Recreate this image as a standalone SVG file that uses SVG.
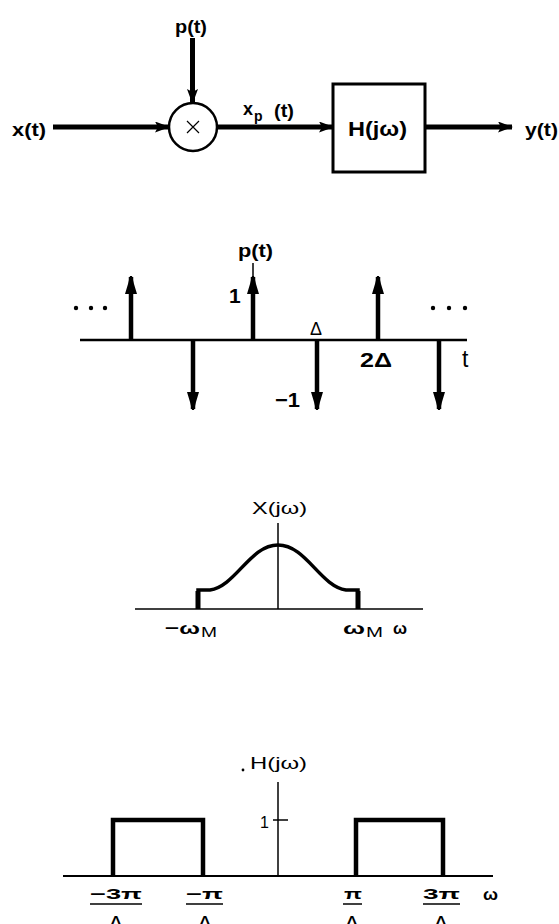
<svg xmlns="http://www.w3.org/2000/svg" width="559" height="924" viewBox="0 0 559 924">
<style>
text{font-family:"Liberation Sans",Arial,sans-serif;fill:#000}
.b{font-weight:bold}
.s{stroke:#000;fill:none}
</style>
<defs>
<marker id="ah" viewBox="0 0 15 11" refX="14" refY="5.5" markerWidth="15" markerHeight="11" markerUnits="userSpaceOnUse" orient="auto">
<path d="M0,0 L15,5.5 L0,11 L3,5.5 Z" fill="#000"/>
</marker>
<marker id="ai" viewBox="0 0 18 12" refX="17" refY="6" markerWidth="18" markerHeight="12" markerUnits="userSpaceOnUse" orient="auto">
<path d="M0,0 L10,3 L18,5 L18,7 L10,9 L0,12 Z" fill="#000"/>
</marker>
</defs>
<rect width="559" height="924" fill="#fff"/>

<!-- Block diagram -->
<g id="multiplier">
<circle cx="193" cy="127" r="24" class="s" stroke-width="2.5"/>
<path d="M187,121 L199,133 M199,121 L187,133" class="s" stroke-width="1.2"/>
</g>
<g id="filter">
<rect x="333" y="84" width="92" height="88" class="s" stroke-width="3"/>
<text x="348" y="136" class="b" font-size="21" textLength="59" lengthAdjust="spacingAndGlyphs">H(jω)</text>
</g>
<g id="labels-top">
<text x="175" y="33" class="b" font-size="18" textLength="32" lengthAdjust="spacingAndGlyphs">p(t)</text>
<text x="12" y="136" class="b" font-size="18" textLength="34" lengthAdjust="spacingAndGlyphs">x(t)</text>
<text x="243" y="115" class="b" font-size="18">x</text>
<text x="254" y="121" class="b" font-size="14">p</text>
<text x="274" y="117" class="b" font-size="18" textLength="20" lengthAdjust="spacingAndGlyphs">(t)</text>
<text x="525" y="136" class="b" font-size="18" textLength="33" lengthAdjust="spacingAndGlyphs">y(t)</text>
</g>
<g id="connectors">
<line x1="192.5" y1="38" x2="192.5" y2="103" class="s" stroke-width="5" marker-end="url(#ah)"/>
<line x1="53" y1="127" x2="169" y2="127" class="s" stroke-width="5" marker-end="url(#ah)"/>
<line x1="217" y1="127" x2="333" y2="127" class="s" stroke-width="5" marker-end="url(#ah)"/>
<line x1="425" y1="127" x2="512" y2="127" class="s" stroke-width="5" marker-end="url(#ah)"/>
</g>

<!-- p(t) impulse train -->
<g id="pt-plot">
<line x1="80" y1="340" x2="467" y2="340" class="s" stroke-width="2.5"/>
<line x1="253" y1="263" x2="253" y2="280" class="s" stroke-width="1.5"/>
<g class="s" stroke-width="4.5">
<line x1="131" y1="340" x2="131" y2="277" marker-end="url(#ai)"/>
<line x1="253" y1="340" x2="253" y2="277" marker-end="url(#ai)"/>
<line x1="378" y1="340" x2="378" y2="277" marker-end="url(#ai)"/>
<line x1="193" y1="340" x2="193" y2="409" marker-end="url(#ai)"/>
<line x1="317" y1="340" x2="317" y2="409" marker-end="url(#ai)"/>
<line x1="439" y1="340" x2="439" y2="409" marker-end="url(#ai)"/>
</g>
<circle cx="76" cy="308" r="2.2"/><circle cx="91" cy="308" r="2.2"/><circle cx="105" cy="308" r="2.2"/>
<circle cx="433" cy="308" r="2.2"/><circle cx="449" cy="308" r="2.2"/><circle cx="465" cy="308" r="2.2"/>
<text x="238" y="257" class="b" font-size="18" textLength="35" lengthAdjust="spacingAndGlyphs">p(t)</text>
<text x="229" y="303" class="b" font-size="21">1</text>
<text x="310" y="335" font-size="18" textLength="12" lengthAdjust="spacingAndGlyphs">Δ</text>
<text x="360" y="367" class="b" font-size="20" textLength="32" lengthAdjust="spacingAndGlyphs">2Δ</text>
<text x="462" y="367" font-size="23">t</text>
<text x="275" y="407" class="b" font-size="21" textLength="25" lengthAdjust="spacingAndGlyphs">−1</text>
</g>

<!-- X(jw) -->
<g id="X-plot">
<line x1="135" y1="609" x2="423" y2="609" class="s" stroke-width="1.5"/>
<line x1="278" y1="523" x2="278" y2="609" class="s" stroke-width="1.5"/>
<path d="M198,609 V590 H210 C236,586 250,545 278,545 C306,545 320,586 346,590 H358 V609" class="s" stroke-width="3.5"/>
<path d="M198,609 V591 M358,609 V591" class="s" stroke-width="5"/>
<text x="252" y="514" font-size="16" textLength="55" lengthAdjust="spacingAndGlyphs">X(jω)</text>
<text x="165" y="634" class="b" font-size="17" textLength="35" lengthAdjust="spacingAndGlyphs">−ω</text>
<text x="201" y="637" font-size="14" textLength="16" lengthAdjust="spacingAndGlyphs">M</text>
<text x="343" y="634" class="b" font-size="17" textLength="22" lengthAdjust="spacingAndGlyphs">ω</text>
<text x="366" y="637" font-size="14" textLength="17" lengthAdjust="spacingAndGlyphs">M</text>
<text x="393" y="634" class="b" font-size="16" textLength="14" lengthAdjust="spacingAndGlyphs">ω</text>
</g>

<!-- H(jw) -->
<g id="H-plot">
<line x1="63" y1="876" x2="493" y2="876" class="s" stroke-width="2"/>
<line x1="278" y1="782" x2="278" y2="876" class="s" stroke-width="1.5"/>
<line x1="273" y1="820" x2="288" y2="820" class="s" stroke-width="1.5"/>
<path d="M113,876 V820 H203 V876" class="s" stroke-width="4.5"/>
<path d="M356,876 V820 H443 V876" class="s" stroke-width="4.5"/>
<text x="260" y="828" font-size="16">1</text>
<circle cx="243" cy="770" r="1.4"/>
<text x="250" y="769" font-size="16" textLength="57" lengthAdjust="spacingAndGlyphs">H(jω)</text>
<g class="b" font-size="15">
<text x="90" y="899" textLength="52" lengthAdjust="spacingAndGlyphs">−3π</text>
<line x1="90" y1="904" x2="142" y2="904" class="s" stroke-width="1.5"/>
<text x="116" y="926" text-anchor="middle">Δ</text>
<text x="186" y="899" textLength="37" lengthAdjust="spacingAndGlyphs">−π</text>
<line x1="186" y1="904" x2="223" y2="904" class="s" stroke-width="1.5"/>
<text x="205" y="926" text-anchor="middle">Δ</text>
<text x="344" y="899" textLength="18" lengthAdjust="spacingAndGlyphs">π</text>
<line x1="343" y1="904" x2="362" y2="904" class="s" stroke-width="1.5"/>
<text x="352" y="926" text-anchor="middle">Δ</text>
<text x="423" y="899" textLength="37" lengthAdjust="spacingAndGlyphs">3π</text>
<line x1="423" y1="904" x2="460" y2="904" class="s" stroke-width="1.5"/>
<text x="441" y="926" text-anchor="middle">Δ</text>
<text x="483" y="900" font-size="16" textLength="15" lengthAdjust="spacingAndGlyphs">ω</text>
</g>
</g>
</svg>
